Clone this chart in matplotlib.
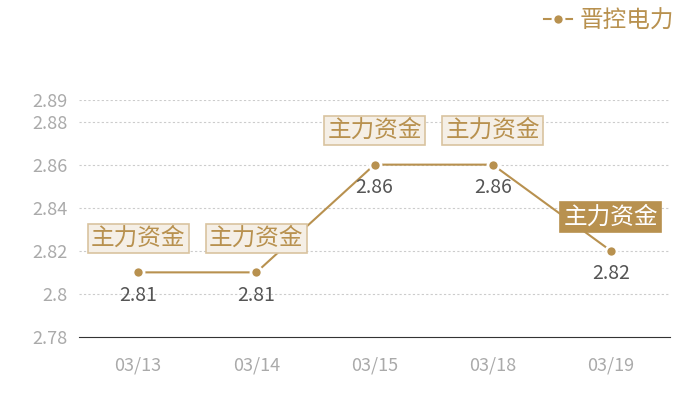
import matplotlib
matplotlib.use("Agg")
from matplotlib import pyplot as plt

plt.rcParams['font.family'] = ['Noto Sans CJK SC', 'DejaVu Sans']

dates = ['03/13', '03/14', '03/15', '03/18', '03/19']
prices = [2.81, 2.81, 2.86, 2.86, 2.82]
yticks = [2.78, 2.8, 2.82, 2.84, 2.86, 2.88, 2.89]
ytick_labels = ['2.78', '2.8', '2.82', '2.84', '2.86', '2.88', '2.89']
tag = '主力资金'
series_name = '晋控电力'

gold = '#b8914f'

fig = plt.figure(figsize=(7, 4), dpi=100)
ax = fig.add_axes([0.113, 0.1575, 0.844, 0.5925])

xs = list(range(len(dates)))
line, = ax.plot(xs, prices, color=gold, lw=1.5, marker='o', markersize=8,
                markerfacecolor=gold, markeredgecolor='white', markeredgewidth=2,
                label=series_name, zorder=3)

for i, (x, p) in enumerate(zip(xs, prices)):
    ax.annotate(f'{p:.2f}', (x, p), xytext=(0, -16.5), textcoords='offset points',
                ha='center', va='center', fontsize=14, color='#555555')
    last = i == len(xs) - 1
    ax.annotate(tag, (x, p), xytext=(0, 24.5), textcoords='offset points',
                ha='center', va='center', fontsize=17,
                color='white' if last else gold,
                bbox=dict(boxstyle='square,pad=0.14',
                          fc=gold if last else '#f5efe6',
                          ec=gold if last else '#d9c3a0', lw=1.2),
                zorder=5)

ax.set_xlim(-0.5, 4.5)
ax.set_ylim(2.78, 2.89)
ax.set_xticks(xs)
ax.set_xticklabels(dates)
ax.set_yticks(yticks)
ax.set_yticklabels(ytick_labels)
ax.tick_params(length=0, labelsize=13, colors='#aaaaaa', pad=8)
ax.tick_params(axis='x', pad=14)
for t in yticks[1:]:
    ax.axhline(t, color='#cccccc', lw=0.8, ls=(0, (2, 2)), zorder=1)
for s in ['top', 'right', 'left']:
    ax.spines[s].set_visible(False)
ax.spines['bottom'].set_color('#333333')

leg = fig.legend(handles=[line], loc='upper right', bbox_to_anchor=(0.993, 1.03),
                 frameon=False, fontsize=17, handlelength=1.2, handletextpad=0.3)
for t in leg.get_texts():
    t.set_color(gold)

plt.savefig('out.png', format='PNG')
